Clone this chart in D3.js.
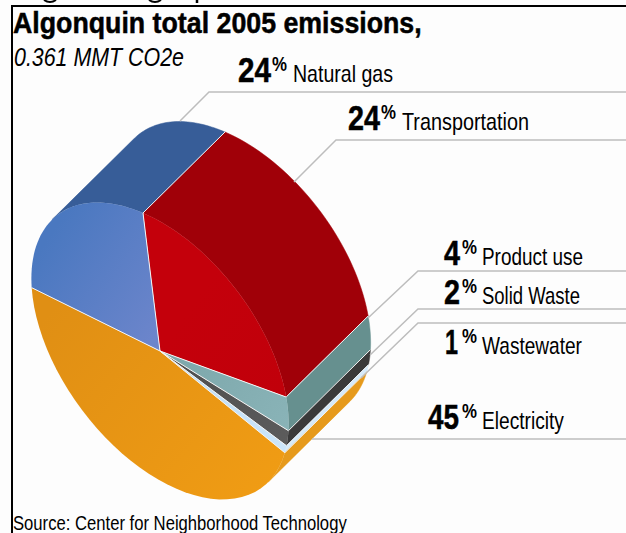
<!DOCTYPE html>
<html><head><meta charset="utf-8">
<script src="https://cdn.jsdelivr.net/npm/d3@7"></script>
<style>
html,body{margin:0;padding:0;background:#fff;overflow:hidden}
svg{display:block}
text{fill:#000;font-family:"Liberation Sans",Arial,sans-serif}
</style></head><body>
<svg id="c" width="626" height="533"></svg>
<script>
// ---- data ----
const categories = ["Transportation","Product use","Solid Waste","Wastewater","Electricity","Natural gas"];
const shares = [24,4,2,1,45,24];
const faceStart = ["#c4000b","#7ca6aa","#4c4c4c","#bcdcf4","#e08f14","#4a78c0"];
const faceEnd   = ["#c0000a","#8ab4b8","#5c5c5c","#cce6fa","#f09c14","#6c85cb"];
const wallColors= ["#a00008","#66908f","#3a3a3a","#d4eafa","#e69a1c","#375d98"];
const title = "Algonquin total 2005 emissions,";
const subtitle = "0.361 MMT CO2e";
const source = "Source: Center for Neighborhood Technology";

const svg = d3.select("#c");
const W = 626;
svg.append("rect").attr("width",626).attr("height",533).attr("fill","#fdfdfd");

// ---- oblique projection of the pie ----
const c = [160,351], u = [-17,-138], v = [127.5,54.8], e = [82,-81];
const project = (t,d=0)=>[c[0]+u[0]*Math.cos(t)+v[0]*Math.sin(t)+d*e[0],
                          c[1]+u[1]*Math.cos(t)+v[1]*Math.sin(t)+d*e[1]];
const sample = (a,b)=>d3.range(0,41).map(i=>a+(b-a)*i/40);
const line = d3.line();
const arcs = d3.pie().sort(null).value(d=>d)(shares);
const TAU = 2*Math.PI;

const nx = 1, ny = 1;
const tA = Math.atan2(v[0]*nx+v[1]*ny, u[0]*nx+u[1]*ny);
const tB = tA + Math.PI;

const defs = svg.append("defs");
arcs.forEach((a,i)=>{
  const g = defs.append("linearGradient").attr("id","f"+i).attr("gradientUnits","userSpaceOnUse");
  const coords = i===4 ? [60,300,280,480] : i===5 ? [40,250,160,330] : [160,351,290,440];
  g.attr("x1",coords[0]).attr("y1",coords[1]).attr("x2",coords[2]).attr("y2",coords[3]);
  g.append("stop").attr("offset",0).attr("stop-color",faceStart[i]);
  g.append("stop").attr("offset",1).attr("stop-color",faceEnd[i]);
});

const walls = svg.append("g");
arcs.forEach((a,i)=>{
  [[tB-TAU,tA],[tB,tA+TAU]].forEach(([lo,hi])=>{
    const s=Math.max(a.startAngle,lo), t=Math.min(a.endAngle,hi);
    if(t<=s) return;
    const pts = sample(s,t);
    const poly = pts.map(p=>project(p,0)).concat(pts.slice().reverse().map(p=>project(p,1)));
    walls.append("path").attr("d",line(poly)+"Z").attr("fill",wallColors[i])
      .attr("stroke",wallColors[i]).attr("stroke-width",.5);
  });
});
arcs.forEach((a)=>{
  const t=a.startAngle;
  walls.append("path").attr("d",line([project(t,0),project(t,1)]))
    .attr("stroke","#f4f4f4").attr("stroke-width",1).attr("fill","none");
});

const face = svg.append("g");
arcs.forEach((a,i)=>{
  const poly=[c].concat(sample(a.startAngle,a.endAngle).map(p=>project(p,0)));
  face.append("path").attr("d",line(poly)+"Z").attr("fill",`url(#f${i})`);
});
arcs.forEach(a=>{
  face.append("path").attr("d",line([c,project(a.startAngle,0)]))
    .attr("stroke","#f4f4f4").attr("stroke-width",1).attr("fill","none");
});

// text squeezed horizontally to the measured width, like the condensed face of the original
function fitText(parent,str,x,y,width,size,opts={}){
  const t=parent.append("text").text(str).attr("font-size",size)
    .attr("font-weight",opts.weight||400).attr("font-style",opts.style||"normal");
  if(opts.heavy) t.attr("stroke","#000").attr("stroke-width",opts.heavy);
  const natural=t.node().getComputedTextLength();
  t.attr("transform",`translate(${x},${y}) scale(${width/natural},1)`);
  return t;
}

const labelRows = [
 {pct:"24",name:"Natural gas",numX:238,numW:33,pctX:272,nameX:293,nameW:100,base:82,lead:[[180,121],[209,92],[W,92]]},
 {pct:"24",name:"Transportation",numX:348,numW:32,pctX:381,nameX:402,nameW:127,base:130,lead:[[294,182],[336,140],[W,140]]},
 {pct:"4",name:"Product use",numX:444,numW:16,pctX:462,nameX:482,nameW:101,base:265,lead:[[368,318],[418,271],[W,271]]},
 {pct:"2",name:"Solid Waste",numX:444,numW:16,pctX:462,nameX:482,nameW:98,base:304,lead:[[370,355],[418,309],[W,309]]},
 {pct:"1",name:"Wastewater",numX:445,numW:13,pctX:462,nameX:482,nameW:100,base:354,lead:[[361,378],[418,323],[W,323]]},
 {pct:"45",name:"Electricity",numX:428,numW:31,pctX:462,nameX:482,nameW:82,base:429,lead:[[312,439],[W,439]]}
];
const lab = svg.append("g");
labelRows.forEach(r=>{
  lab.append("path").attr("d",line(r.lead)).attr("fill","none").attr("stroke","#bdbdbd").attr("stroke-width",1.5);
  fitText(lab,r.pct,r.numX,r.base,r.numW,35,{weight:700,heavy:.5});
  fitText(lab,"%",r.pctX,r.base-11,15,20,{weight:700});
  fitText(lab,r.name,r.nameX,r.base,r.nameW,24);
});

fitText(svg,title,13,33,409,30,{weight:700,heavy:.5});
fitText(svg,subtitle,14,66,170,26,{style:"italic"});
fitText(svg,source,13,530,334,21);

// tails of a cropped line of text above the frame
svg.append("g").attr("fill","none").attr("stroke","#000").attr("stroke-width",2)
  .selectAll("path").data(["M44,0Q50,4 56,0","M149,0Q155,4 161,0"]).join("path").attr("d",d=>d);
svg.append("path").attr("d","M197,0V3").attr("stroke","#000").attr("stroke-width",2.5);

svg.append("path").attr("d","M626,6H12V533").attr("fill","none").attr("stroke","#000").attr("stroke-width",2);
</script></body></html>
